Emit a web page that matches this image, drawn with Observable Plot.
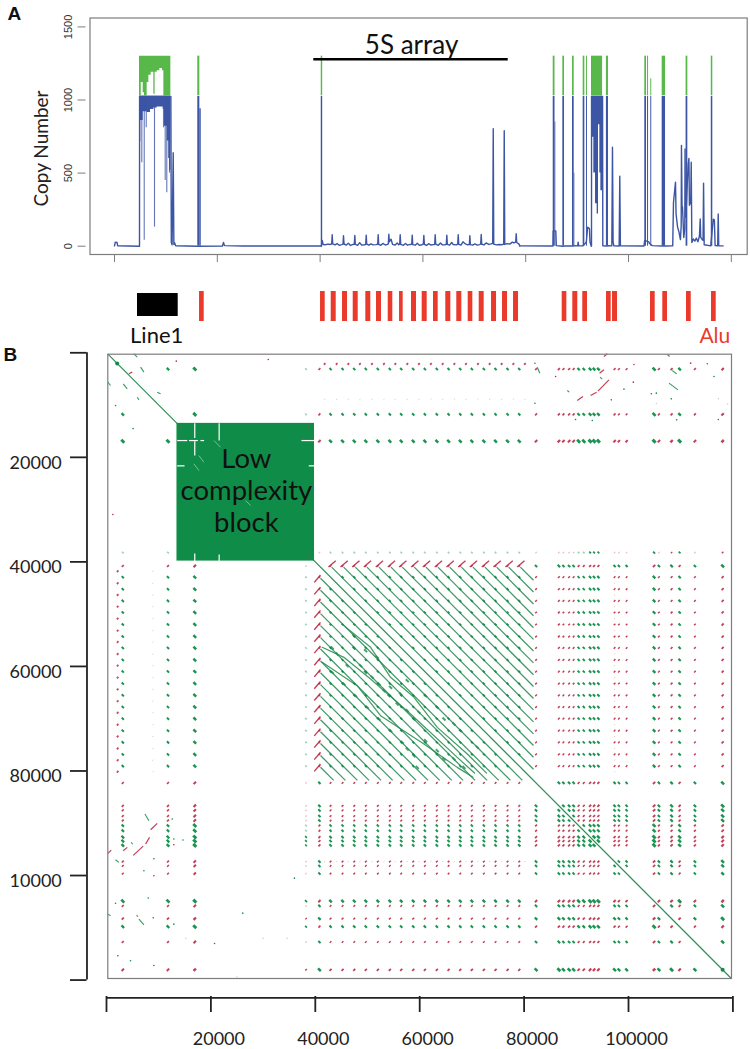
<!DOCTYPE html>
<html>
<head>
<meta charset="utf-8">
<script src="https://cdn.jsdelivr.net/npm/d3@7"></script>
<script src="https://cdn.jsdelivr.net/npm/@observablehq/plot@0.6"></script>
<style>
html,body{margin:0;padding:0;background:#fff}
#chart{position:relative;width:750px;height:1049px;overflow:hidden}
#chart svg{position:absolute;left:0}
</style>
</head>
<body>
<div id="chart"></div>
<script>
/* ---------- Panel A: copy number profile (position in kb, copies) ---------- */
const spikeStart =   [16.2,16.6,40.22,85.35,85.7,87.22,89.1,89.43,91.18,91.82,95.7,103.17,103.7,104.33,106.55,111.2,116.1];
const spikeEnd =     [16.6,16.87,40.5,85.7,85.85,87.55,89.43,89.55,91.5,92.01,96.1,103.5,103.9,104.52,107.2,111.54,116.4];
const spikeBlueTop = [1025,940,1025,1025,850,1025,1025,500,1025,1025,1025,1025,1025,1025,1025,1025,1025];
const spikeGreenTop =[1300,0,1300,1300,0,1300,1300,0,1300,1300,1300,1300,1300,1145,1300,1300,1300];

const wallOneKb =        [4.86,5.58,6.35,7.0,7.65,8.3,8.95,9.47,9.73,10.25,10.7,10.96];
const wallOneBlueLow =   [860,920,915,935,945,952,952,935,820,720,520,520];
const wallOneGreenKb =   [4.86,5.2,5.58,5.83,6.35,6.68,7.13,7.65,7.9,8.3,8.82,9.34,9.6,10.96];
const wallOneGreenLow =  [1030,1120,1050,1030,1120,1170,1190,1040,1190,1200,1215,1200,1030,1030];
const wallOneDripKb =    [4.92,5.31,5.78,6.17,7.78,9.53,9.86,10.17,10.5,10.7];
const wallOneDripLow =   [715,570,40,810,130,810,450,365,600,500];

const wallTwoKb =      [92.8,93.25,93.58,93.9,94.16,94.42,94.62,94.95];
const wallTwoBlueLow = [745,500,290,220,830,500,380,380];
const wallTwoGreenKb = [92.8,94.95];
const wallTwoGreenLow= [1030,1030];

const leftProfile = [[0,2],[.15,28],[.5,26],[.6,3],[4.8,0],[4.86,0],[4.88,1025],[10.96,1025],[11.05,25],[11.2,10],[11.42,640],[11.55,12],[11.7,22],[11.9,3],[16.15,0],[21,1],[21.2,25],[21.4,4],[25,1],[40.25,1]];
const arrayProfile = [[40.25,1],[40.4,40],[40.6,12],[41,10],[41.5,14],[42,12],[42.25,15],[42.35,78],[42.45,16],[42.9,9],[43.3,18],[43.7,6],[44.2,11],[44.45,14],[44.55,72],[44.65,15],[45.1,8],[45.5,20],[45.9,5],[46.4,12],[46.65,13],[46.75,74],[46.85,12],[47.3,6],[47.7,24],[48.1,7],[48.6,10],[48.87,12],[48.97,76],[49.07,14],[49.5,7],[49.9,16],[50.3,9],[50.9,11],[51.2,13],[51.3,78],[51.4,12],[51.8,6],[52.2,19],[52.7,8],[53.1,12],[53.27,16],[53.37,82],[53.47,30],[53.8,48],[54.1,12],[54.6,8],[55,22],[55.3,10],[55.48,14],[55.58,78],[55.68,12],[56.2,6],[56.6,18],[57,7],[57.5,12],[57.82,13],[57.92,76],[58.02,11],[58.5,7],[58.9,20],[59.3,6],[59.8,10],[60.08,14],[60.18,74],[60.28,13],[60.7,5],[61.1,17],[61.6,8],[62,11],[62.29,12],[62.39,78],[62.49,14],[63,6],[63.4,22],[63.8,9],[64.3,10],[64.55,13],[64.65,76],[64.75,12],[65.2,7],[65.6,25],[65.9,12],[66.5,9],[66.77,14],[66.87,78],[66.97,12],[67.4,8],[67.8,30],[68.1,20],[68.6,10],[69.03,12],[69.13,72],[69.23,11],[69.7,8],[70.1,16],[70.6,7],[71,11],[71.24,14],[71.34,80],[71.44,13],[71.9,9],[72.3,22],[72.8,12],[73.3,16],[73.58,20],[73.68,803],[73.78,14],[74.3,9],[74.8,12],[75.3,10],[75.72,14],[75.82,790],[75.92,12],[76.4,18],[76.9,14],[77.4,28],[77.7,22],[78.05,28],[78.15,85],[78.25,25],[78.7,14],[78.85,2]];
const rightProfile = [[78.85,2],[85.3,1],[85.35,105],[85.85,105],[85.95,4],[87.2,0],[87.6,2],[89.1,1],[89.5,3],[90.1,2],[90.2,28],[90.3,3],[91.1,2],[91.6,20],[91.8,30],[92.05,130],[92.4,120],[92.5,30],[92.75,0],[92.8,1],[92.81,1025],[94.95,1025],[95,3],[95.6,1],[96.2,3],[96.75,2],[96.88,677],[97,30],[97.15,2],[98.18,1],[98.3,479],[98.42,2],[103,1],[103.15,40],[103.95,30],[104.05,20],[104.6,4],[106.5,1],[107.25,1],[108.6,2],[108.75,300],[108.85,335],[109.14,438],[109.25,220],[109.55,130],[109.8,100],[110.1,45],[110.25,140],[110.3,690],[110.42,250],[110.5,270],[110.75,60],[110.95,120],[111,665],[111.05,300],[111.15,200],[111.6,560],[111.75,600],[111.85,280],[112.1,300],[112.2,575],[112.32,25],[112.6,50],[112.9,35],[113.2,55],[113.5,30],[113.8,70],[113.95,187],[114.05,60],[114.35,45],[114.5,40],[114.6,431],[114.72,10],[116,2],[116.48,185],[116.7,180],[116.85,5],[117.35,3],[117.45,221],[117.55,3],[118.4,2]];

const copyTicks = [0,500,1000,1500];
const kbTicks = [0,20,40,60,80,100,120];

/* ---------- Annotation track (kb) ---------- */
const aluStart = [16.54,40.08,42.16,44.36,46.44,48.89,50.97,53.25,55.45,57.78,59.86,62.06,64.45,66.59,68.81,70.95,73.35,75.49,77.63,87.1,89.16,91.1,95.72,96.89,104.28,106.67,111.28,116.15];
const aluEnd =   [17.45,40.99,43.13,45.33,47.41,49.86,51.94,54.14,56.16,58.75,60.83,62.97,65.43,67.57,69.71,71.92,74.32,76.46,78.6,88,90.13,92.02,96.63,97.86,105.19,107.58,112.2,117.06];
const lineOneSpan = [4.47,12.39];

/* ---------- Panel B: dot plot (position in bp); +1 same strand, -1 opposite ---------- */
const flankPos =    [3120,11780,16910,38220,40790];
const flankStrand = [1,1,1,1,-1];
const flankWeight = [1.1,1.1,1.7,.5,1];
const fiveSPos = [42920,45220,47460,49680,51980,54280,56460,58760,60990,63280,65530,67770,69990,72290,74530,76830,79070];
const afterPos =    [82290,86660,87530,88620,89480,90440,91430,92640,93400,94230,97330,98160,99630,104900,105820,108250,109790,112720,118030];
const afterStrand = [-1,-1,-1,-1,-1,1,1,1,1,1,-1,-1,-1,1,-1,-1,1,-1,-1];
const afterWeight = [1,1.1,1,1,1,1,1,1.2,1.2,1.2,1,.9,.9,1.5,1,1.2,1.2,1,1.5];
const shiftedPos = [41790,44090,46330,48550,50850,53150,55330,57630,59860,62150,64400,66640,68860,71160,73400,75700,77940,80150];
const shiftedStrong = 2140;
const shiftedFaint = 8900;
const arrayStart = 41000;
const arrayEnd = 81800;
const diagonalEnds = [270,119700];
const diagonalBlobs = [2050,118030];
const blockSpan = [13500,39850];

const obliqueLines = [
  [[41320,59210],[48030,63680],[52510,69420],[60810,74840],[67200,79310],[70200,81200]],
  [[41320,56340],[45480,58260],[50590,62400],[58260,69100],[67200,77400],[70500,80400]],
  [[45480,52200],[50590,56340],[54420,62080],[58900,65910],[63370,71650],[69120,76760],[72800,80400]]
];
const centreDashes = [[43240,56470],[44200,57620],[46120,59850],[47390,56470],[48670,59850],[49630,61130],[50910,62080],[52190,63360],[53150,64640],[54100,65590],[54420,64000],[55700,67190],[57620,68460],[58900,70060],[59850,68780],[61130,65590],[63370,67830],[64650,70060],[66560,71020],[67840,72290],[71040,75480],[61130,74210],[63370,76120],[64650,77710],[66560,77710],[68480,79310],[56660,74520],[57620,75800],[58900,77080],[59540,79310],[49950,67830],[52190,70060],[54420,72290],[47710,65590],[45480,63360],[43240,61130],[47390,54110],[49630,56980],[51870,58260],[56340,65270],[57620,62720]];

const blockCuts = [
  [13544,16790,15470,16790],[15800,16790,17500,16790],[18000,16790,18700,16790],[37350,16790,39850,16790],
  [16910,13470,16910,16300],[16910,16900,16910,19660],[16910,38400,16910,39810],
  [21580,13470,21580,16800],[21580,38600,21580,39810],
  [13540,21630,14950,21630],[38750,21630,39850,21630]
];
const blockFaintCuts = [[17710,19660,18650,20940],[26660,28270,27610,29220],[20590,16790,21850,18060],[16750,21250,17710,22530]];
const blockSpecks = [[14330,14230],[38800,14230],[38800,38800],[25200,26900],[31000,31500]];

const greenStrokes = [[107440,325,107880,708],[107755,5812,109480,7088],[108395,3388,109225,4026],[94530,4664,94975,5047],[82515,2750,83025,3900],[88265,7216,88650,7535],[6210,108340,7170,109420],[1735,96980,2375,97490],[265,107380,775,107700],[5760,107570,6020,107890],[7360,88240,8125,89520],[4740,93660,5000,93980],[265,5620,775,6260],[3205,5940,3970,6900],[6530,2750,7170,3705],[5250,200,5890,835],[9720,7535,10360,7854],[5890,8490,6210,9000]];
const redStrokes = [[94145,7344,96255,5174],[92740,8173,93890,7535],[90180,9130,91270,8364],[94460,3898,95295,3260],[95295,708,95935,198],[5120,96150,7040,94365],[3205,95260,3970,94620],[7490,93980,8250,92705],[8450,91240,9720,90030],[265,95770,905,95130],[4290,4026,4930,3705]];
const greenSpecks = [[82070,2000],[82070,9640],[96700,9000],[99130,6960],[104370,7850],[105330,7725],[108200,8810],[116380,4536],[117210,12770],[109225,12830],[93060,12960],[1735,10090],[1735,105300],[8000,104300],[8950,108100],[9080,96800],[7170,99100],[12900,93000],[14650,93200],[12600,89200],[12900,109300],[4600,116300],[9080,117200],[26100,107200],[36000,100500],[20700,113000],[5100,14500]];
const redSpecks = [[89860,12770],[101050,2240],[115100,2110],[111900,1985],[100920,5620],[86030,4536],[13370,1600],[31000,1280],[1225,30950],[9080,100040],[2180,115360],[12900,94100]];
const paleSpecks = [[119000,9800],[105330,9700],[117210,8800],[25000,119400],[15200,112000],[30000,112000],[34600,112000]];

const xTickVals = [0,20000,40000,60000,80000,100000,120000];
const xTickText = ["","20000","40000","60000","80000","100000",""];
const yTickVals = [0,20000,40000,60000,80000,100000,120000];
const yTickText = ["","20000","40000","60000","80000","10000",""];

/* ---------- colours and fonts ---------- */
const BLUE="#3c55a5", GREEN_A="#58b84a", RED_BAR="#ea3a2b", GREEN_B="#0f8d48", STRIPE="#2a8f55", RED_B="#bb2a45", AXIS="#7d7d7d";
const SANS="Lato, sans-serif";

/* ---------- Panel A ---------- */
const spikes = spikeStart.map((s,i)=>({s,e:spikeEnd[i],b:spikeBlueTop[i],g:spikeGreenTop[i]}));
const zipEnv=(xs,low)=>xs.map((x,i)=>({x,low:low[i]}));
const panelA = Plot.plot({
  width:750,height:270,marginLeft:89.5,marginRight:3.3,marginTop:17.5,marginBottom:16,
  style:{background:"transparent"},
  x:{domain:[-4.77,123.09]},
  y:{domain:[-56.8,1561]},
  marks:[
    Plot.frame({stroke:AXIS,strokeWidth:1.2}),
    Plot.axisX({ticks:kbTicks,tickSize:8,stroke:AXIS,tickFormat:()=>"",label:null}),
    Plot.axisY({ticks:copyTicks,tickSize:8,stroke:AXIS,tickRotate:-90,tickPadding:6,fontSize:11,fill:"#333",label:null,textAnchor:"middle",fontFamily:"Liberation Sans",dx:-4,tickFormat:d=>String(d)}),
    Plot.areaY(zipEnv(wallOneGreenKb,wallOneGreenLow),{x:"x",y1:"low",y2:()=>1300,curve:"step-after",fill:GREEN_A}),
    Plot.areaY(zipEnv(wallTwoGreenKb,wallTwoGreenLow),{x:"x",y1:"low",y2:()=>1300,curve:"step-after",fill:GREEN_A}),
    Plot.rect(spikes.filter(d=>d.g>0),{x1:"s",x2:"e",y1:()=>1030,y2:"g",fill:GREEN_A}),
    Plot.areaY(zipEnv(wallOneKb,wallOneBlueLow),{x:"x",y1:"low",y2:()=>1025,curve:"step-after",fill:BLUE}),
    Plot.areaY(zipEnv(wallTwoKb,wallTwoBlueLow),{x:"x",y1:"low",y2:()=>1025,curve:"step-after",fill:BLUE}),
    Plot.ruleX(zipEnv(wallOneDripKb,wallOneDripLow),{x:"x",y1:"low",y2:()=>1025,stroke:BLUE,strokeWidth:1.1,strokeOpacity:.8}),
    Plot.rect(spikes,{x1:"s",x2:"e",y1:()=>0,y2:"b",fill:BLUE}),
    ...[leftProfile,arrayProfile,rightProfile].map(p=>Plot.line(p,{x:d=>d[0],y:d=>d[1],stroke:BLUE,strokeWidth:1.4,curve:"linear"})),
    Plot.ruleY([1279],{x1:38.77,x2:76.6,stroke:"#000",strokeWidth:2.4}),
    Plot.text(["5S array"],{x:()=>57.8,y:()=>1315,text:d=>d,fontFamily:SANS,fontSize:26,fill:"#111",lineAnchor:"bottom"}),
    Plot.text(["Copy Number"],{x:()=>-14.2,y:()=>668,text:d=>d,rotate:-90,fontFamily:SANS,fontSize:19,fill:"#222"}),
    Plot.text(["A"],{x:()=>-19.5,y:()=>1590,text:d=>d,fontFamily:"Liberation Sans",fontWeight:"bold",fontSize:19,fill:"#111"})
  ]
});
panelA.style.top="0px";

/* ---------- Annotation track ---------- */
const alus = aluStart.map((s,i)=>({s,e:aluEnd[i]}));
const track = Plot.plot({
  width:750,height:70,marginLeft:89.5,marginRight:3.3,marginTop:11,marginBottom:29,
  style:{background:"transparent"},
  x:{domain:[-4.77,123.09],axis:null},
  y:{domain:[0,1],axis:null},
  marks:[
    Plot.rect(alus,{x1:"s",x2:"e",y1:()=>0,y2:()=>1,fill:RED_BAR}),
    Plot.rect([lineOneSpan],{x1:d=>d[0],x2:d=>d[1],y1:()=>.167,y2:()=>.933,fill:"#000"}),
    Plot.text(["Line1"],{x:()=>8.2,y:()=>-.73,text:d=>d,fontFamily:SANS,fontSize:22,fill:"#111",lineAnchor:"bottom"}),
    Plot.text(["Alu"],{x:()=>116.8,y:()=>-.73,text:d=>d,fontFamily:SANS,fontSize:21,fill:RED_BAR,lineAnchor:"bottom"})
  ]
});
track.style.top="280px";

/* ---------- Panel B ---------- */
const features = [
  ...flankPos.map((p,i)=>({p,s:flankStrand[i],w:flankWeight[i]})),
  ...fiveSPos.map(p=>({p,s:1,w:.85})),
  ...afterPos.map((p,i)=>({p,s:afterStrand[i],w:afterWeight[i]}))
];
const cells=[];
for(const a of features)for(const b of features){
  if(a===b)continue;
  cells.push({x:a.p,y:b.p,sign:a.s*b.s,w:a.w*b.w});
}
const greenLen=d=>100+110*Math.min(d.w,1.7);
const redLen=d=>90+80*Math.min(d.w,1.7);
const greens=cells.filter(d=>d.sign>0), reds=cells.filter(d=>d.sign<0);
const shiftedCells=[];
for(const p of shiftedPos){
  shiftedCells.push({x:p,y:shiftedStrong},{x:shiftedStrong,y:p});
}
const faintCells=[];
for(const p of shiftedPos){
  faintCells.push({x:p,y:shiftedFaint},{x:shiftedFaint,y:p},{x:p,y:97330},{x:97330,y:p});
}
const stubs=[];
for(const p of fiveSPos){
  stubs.push({x1:p-400,y1:40990,x2:p+1000,y2:39800},{x1:40990,y1:p-400,x2:39800,y2:p+1000});
}
const stripes=[];
for(const p of fiveSPos){
  const gap=p-flankPos[4];
  stripes.push({x1:arrayStart,y1:arrayStart+gap,x2:arrayEnd-gap,y2:arrayEnd});
  stripes.push({x1:arrayStart+gap,y1:arrayStart,x2:arrayEnd,y2:arrayEnd-gap});
}
const seg=a=>({x1:a[0],y1:a[1],x2:a[2],y2:a[3]});
const speck=(arr,color,r)=>Plot.dot(arr,{x:d=>d[0],y:d=>d[1],r,fill:color,stroke:"none"});

const panelB = Plot.plot({
  width:750,height:719,marginLeft:107.3,marginRight:19,marginTop:23.7,marginBottom:71,
  style:{background:"transparent"},
  x:{domain:[250,119730]},
  y:{domain:[270,119700],reverse:true},
  marks:[
    Plot.link(stripes,{x1:"x1",y1:"y1",x2:"x2",y2:"y2",stroke:STRIPE,strokeWidth:1.25,strokeOpacity:.9}),
    ...obliqueLines.map(l=>Plot.line(l,{x:d=>d[0],y:d=>d[1],stroke:STRIPE,strokeWidth:1.2,strokeOpacity:.9})),
    Plot.link(centreDashes,{x1:d=>d[0]-280,y1:d=>d[1]-280,x2:d=>d[0]+280,y2:d=>d[1]+280,stroke:STRIPE,strokeWidth:2,strokeOpacity:.85}),
    Plot.link([diagonalEnds],{x1:d=>d[0],y1:d=>d[0],x2:d=>d[1],y2:d=>d[1],stroke:STRIPE,strokeWidth:1.2}),
    Plot.link(greens,{x1:d=>d.x-greenLen(d),y1:d=>d.y-greenLen(d),x2:d=>d.x+greenLen(d),y2:d=>d.y+greenLen(d),stroke:GREEN_B,strokeWidth:d=>Math.min(3,1.1+.95*d.w),strokeOpacity:d=>d.w<.6?.4:.95}),
    Plot.link(reds,{x1:d=>d.x-redLen(d),y1:d=>d.y+redLen(d),x2:d=>d.x+redLen(d),y2:d=>d.y-redLen(d),stroke:RED_B,strokeWidth:d=>Math.min(2.5,.9+.7*d.w),strokeOpacity:d=>d.w<.6?.3:.9}),
    Plot.link(stubs,{x1:"x1",y1:"y1",x2:"x2",y2:"y2",stroke:RED_B,strokeWidth:1.4,strokeOpacity:.9}),
    Plot.link(shiftedCells,{x1:d=>d.x-150,y1:d=>d.y+150,x2:d=>d.x+150,y2:d=>d.y-150,stroke:RED_B,strokeWidth:1.8,strokeOpacity:.85}),
    Plot.link(faintCells,{x1:d=>d.x-110,y1:d=>d.y+110,x2:d=>d.x+110,y2:d=>d.y-110,stroke:"#cf9aa6",strokeWidth:1,strokeOpacity:.55}),
    Plot.link(greenStrokes.map(seg),{x1:"x1",y1:"y1",x2:"x2",y2:"y2",stroke:GREEN_B,strokeWidth:1.1,strokeOpacity:.85}),
    Plot.link(redStrokes.map(seg),{x1:"x1",y1:"y1",x2:"x2",y2:"y2",stroke:RED_B,strokeWidth:1.2,strokeOpacity:.9}),
    speck(greenSpecks,GREEN_B,.8),
    speck(redSpecks,RED_B,.8),
    speck(paleSpecks,"#d9c3c8",.7),
    Plot.dot(diagonalBlobs,{x:d=>d,y:d=>d,r:2,fill:GREEN_B}),
    Plot.rect([blockSpan],{x1:d=>d[0],x2:d=>d[1],y1:d=>d[0],y2:d=>d[1],fill:GREEN_B}),
    Plot.link(blockCuts.map(seg),{x1:"x1",y1:"y1",x2:"x2",y2:"y2",stroke:"#fff",strokeWidth:1.2}),
    Plot.link(blockFaintCuts.map(seg),{x1:"x1",y1:"y1",x2:"x2",y2:"y2",stroke:"#fff",strokeWidth:.8,strokeOpacity:.55}),
    speck(blockSpecks,"#b5413f",1),
    Plot.frame({stroke:AXIS,strokeWidth:1.2}),
    Plot.text(["Low"],{x:()=>26800,y:()=>22100,text:d=>d,fontFamily:SANS,fontSize:27.5,fill:"#111",lineAnchor:"bottom"}),
    Plot.text(["complexity"],{x:()=>26800,y:()=>28200,text:d=>d,fontFamily:SANS,fontSize:27.5,fill:"#111",lineAnchor:"bottom"}),
    Plot.text(["block"],{x:()=>26800,y:()=>34300,text:d=>d,fontFamily:SANS,fontSize:27.5,fill:"#111",lineAnchor:"bottom"}),
    /* B axes */
    Plot.axisY({anchor:"left",ticks:yTickVals,tickSize:16.5,dx:-20.8,text:null,stroke:"#222",strokeWidth:1.8,label:null}),
    Plot.axisY({anchor:"left",ticks:yTickVals,tickSize:0,tickPadding:46,dy:5.5,fontFamily:SANS,fontSize:18,fill:"#222",label:null,
      tickFormat:d=>yTickText[yTickVals.indexOf(d)]}),
    Plot.ruleX([-3736],{y1:0,y2:120000,stroke:"#222",strokeWidth:1.8}),
    Plot.axisX({anchor:"bottom",ticks:xTickVals,tickSize:16,dy:18,text:null,stroke:"#222",strokeWidth:1.8,label:null}),
    Plot.axisX({anchor:"bottom",ticks:xTickVals,tickSize:0,tickPadding:53.5,dx:8,fontFamily:SANS,fontSize:18,fill:"#222",label:null,
      tickFormat:d=>xTickText[xTickVals.indexOf(d)]}),
    Plot.ruleY([123400],{x1:0,x2:120000,stroke:"#222",strokeWidth:1.8}),
    Plot.text(["B"],{x:()=>-18400,y:()=>340,text:d=>d,fontFamily:"Liberation Sans",fontWeight:"bold",fontSize:19,fill:"#111"})
  ]
});
panelB.style.top="330px";

const host=document.getElementById("chart");
host.append(panelA,track,panelB);
</script>
</body>
</html>
